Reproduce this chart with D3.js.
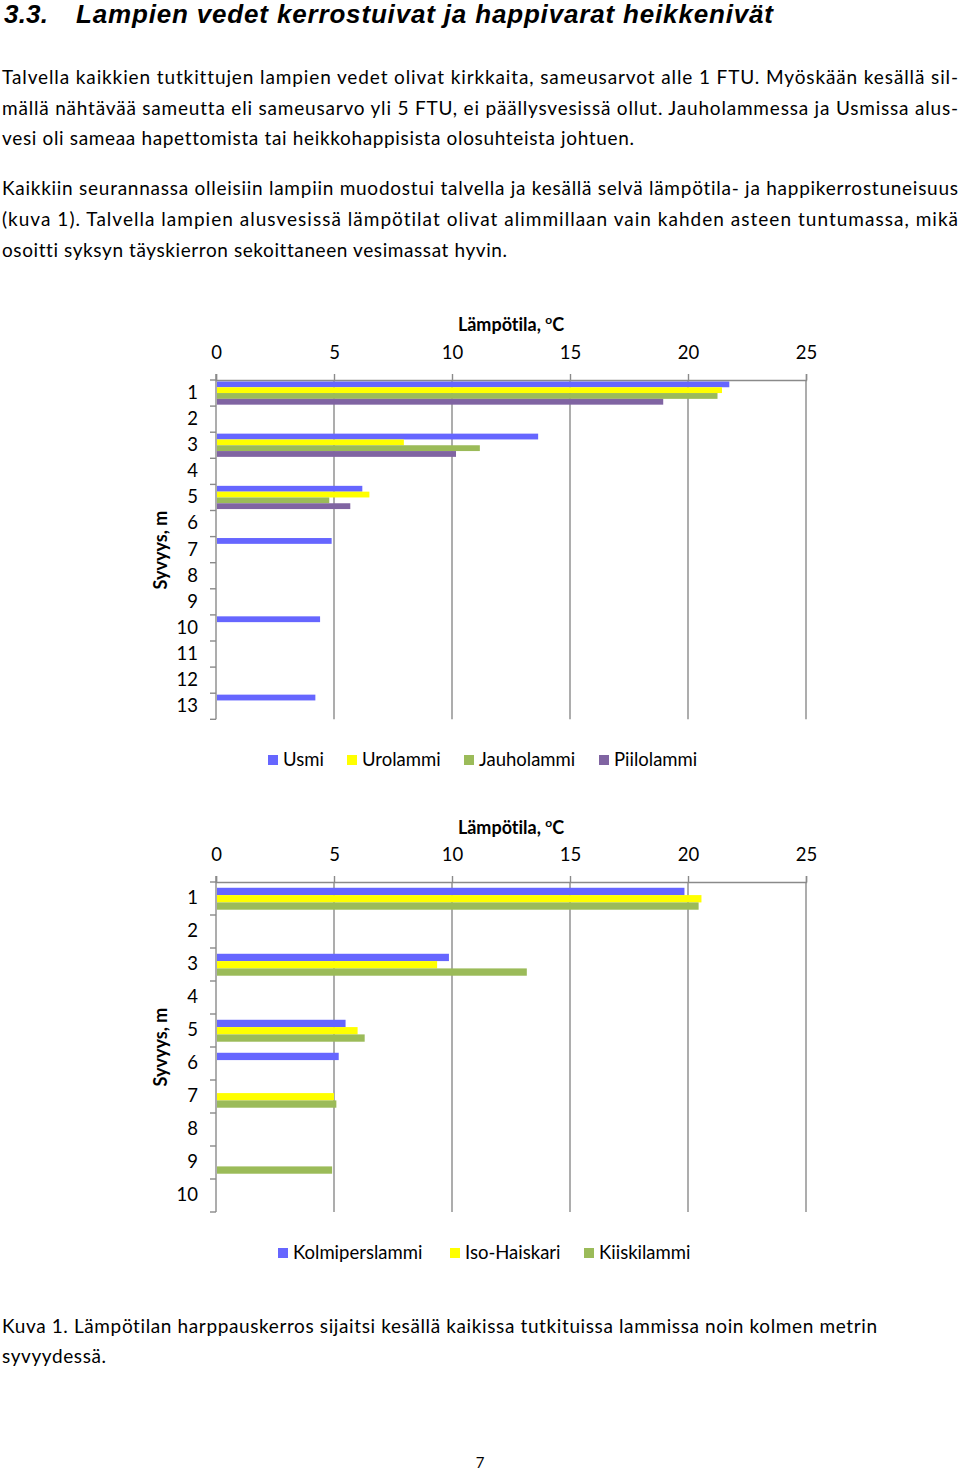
<!DOCTYPE html>
<html><head><meta charset="utf-8">
<script src="https://cdn.jsdelivr.net/npm/d3@7"></script>
<style>
html,body{margin:0;padding:0;background:#fff;}
svg{display:block;}
text{font-family:Lato,"Open Sans",sans-serif;fill:#000;font-variant-ligatures:none;}
</style></head>
<body>
<svg id="page" width="960" height="1470"></svg>
<script>
// ---------- data ----------
const tempTicks = [0, 5, 10, 15, 20, 25];
const depthsTop = [1,2,3,4,5,6,7,8,9,10,11,12,13];
const seriesTop = ["Usmi", "Urolammi", "Jauholammi", "Piilolammi"];
const usmi       = [21.75, null, 13.65, null, 6.2, null, 4.9, null, null, 4.41, null, null, 4.21];
const urolammi   = [21.44, null, 7.96, null, 6.5, null, null, null, null, null, null, null, null];
const jauholammi = [21.25, null, 11.18, null, 4.8, null, null, null, null, null, null, null, null];
const piilolammi = [18.95, null, 10.17, null, 5.69, null, null, null, null, null, null, null, null];

const depthsBottom = [1,2,3,4,5,6,7,8,9,10];
const seriesBottom = ["Kolmiperslammi", "Iso-Haiskari", "Kiiskilammi"];
const kolmiperslammi = [19.85, null, 9.87, null, 5.49, 5.2, null, null, null, null];
const isoHaiskari    = [20.57, null, 9.37, null, 6.0, null, 5.0, null, null, null];
const kiiskilammi    = [20.45, null, 13.17, null, 6.3, null, 5.1, null, 4.92, null];

const colorsTop = ["#6666FF", "#FFFF00", "#9BBB59", "#8064A2"];
const colorsBottom = ["#6666FF", "#FFFF00", "#9BBB59"];

const svg = d3.select("#page");

// ---------- body text ----------
function line(txt, x, y, w, opts = {}) {
  const t = svg.append("text").attr("x", x).attr("y", y)
    .style("font-size", (opts.size || 19) + "px")
    .text(txt);
  if (opts.weight) t.style("font-weight", opts.weight);
  if (opts.style) t.style("font-style", opts.style);
  if (opts.family) t.style("font-family", opts.family);
  if (opts.anchor) t.attr("text-anchor", opts.anchor);
  if (w) t.attr("textLength", w).attr("lengthAdjust", "spacing");
  return t;
}
const titleOpts = {size: 26, weight: "bold", style: "italic", family: "'Liberation Sans', Arial, sans-serif"};
line("3.3.", 4, 23, 44, titleOpts);
line("Lampien vedet kerrostuivat ja happivarat heikkenivät", 76, 23, 697, titleOpts);

const bodyLines = [
  ["Talvella kaikkien tutkittujen lampien vedet olivat kirkkaita, sameusarvot alle 1 FTU. Myöskään kesällä sil-", 84, 956],
  ["mällä nähtävää sameutta eli sameusarvo yli 5 FTU, ei päällysvesissä ollut. Jauholammessa ja Usmissa alus-", 115, 956],
  ["vesi oli sameaa hapettomista tai heikkohappisista olosuhteista johtuen.", 145, 632],
  ["Kaikkiin seurannassa olleisiin lampiin muodostui talvella ja kesällä selvä lämpötila- ja happikerrostuneisuus", 195, 956],
  ["(kuva 1). Talvella lampien alusvesissä lämpötilat olivat alimmillaan vain kahden asteen tuntumassa, mikä", 226, 956],
  ["osoitti syksyn täyskierron sekoittaneen vesimassat hyvin.", 257, 505],
  ["Kuva 1. Lämpötilan harppauskerros sijaitsi kesällä kaikissa tutkituissa lammissa noin kolmen metrin", 1333, 875],
  ["syvyydessä.", 1363, 104]
];
bodyLines.forEach(d => line(d[0], 2, d[1], d[2]));
line("7", 480, 1468, null, {size: 15, anchor: "middle"});

// ---------- chart helper ----------
function drawChart(cfg) {
  const g = svg.append("g");
  const x = d3.scaleLinear().domain([0, 25]).range([216, 806]);
  const y = d3.scaleBand().domain(cfg.depths).range([cfg.top, cfg.bottom]).padding(0);
  const inner = d3.scaleBand().domain(cfg.series)
    .range([y.bandwidth() * cfg.groupStart, y.bandwidth() * (cfg.groupStart + cfg.groupFrac)]).padding(0);
  const gridCol = "#8a8a8a";

  // gridlines
  g.append("g").selectAll("line").data(cfg.ticks.filter(t => t > 0)).join("line")
    .attr("x1", d => x(d)).attr("x2", d => x(d))
    .attr("y1", cfg.top).attr("y2", cfg.bottom)
    .attr("stroke", gridCol).attr("stroke-width", 1.4);

  // bars
  cfg.series.forEach((s, i) => {
    const vals = cfg.values[i];
    g.append("g").selectAll("rect")
      .data(cfg.depths.map((d, j) => ({d, v: vals[j]})).filter(o => o.v != null))
      .join("rect")
      .attr("x", x(0) + 1)
      .attr("y", o => y(o.d) + inner(s))
      .attr("width", o => x(o.v) - x(0) - 1)
      .attr("height", inner.bandwidth())
      .attr("fill", cfg.colors[i]);
  });

  // top value axis
  const xa = g.append("g").attr("transform", `translate(0,${cfg.top})`)
    .call(d3.axisTop(x).tickValues(cfg.ticks).tickSize(6).tickSizeOuter(6).tickPadding(15));
  xa.select(".domain").attr("stroke", gridCol).attr("stroke-width", 1.4);
  xa.selectAll(".tick line").attr("stroke", gridCol).attr("stroke-width", 1.4);
  xa.selectAll(".tick text").style("font-size", "18.5px").style("font-family", "Lato, 'Open Sans', sans-serif").attr("fill", "#000");

  // left category axis
  const ya = g.append("g").attr("transform", "translate(216,0)")
    .call(d3.axisLeft(y).tickSize(0).tickPadding(18));
  ya.select(".domain").remove();
  ya.selectAll(".tick text").style("font-size", "18.5px").style("font-family", "Lato, 'Open Sans', sans-serif").attr("fill", "#000");
  g.append("line").attr("x1", 216).attr("x2", 216).attr("y1", cfg.top - 6).attr("y2", cfg.bottom)
    .attr("stroke", gridCol).attr("stroke-width", 1.4);
  const edges = cfg.depths.map(d => y(d)).concat([y(cfg.depths[cfg.depths.length - 1]) + y.bandwidth()]);
  g.append("g").selectAll("line").data(edges).join("line")
    .attr("x1", 210).attr("x2", 216).attr("y1", d => d).attr("y2", d => d)
    .attr("stroke", gridCol).attr("stroke-width", 1.4);

  // axis title
  const tt = g.append("text").attr("x", 511).attr("y", cfg.titleY).attr("text-anchor", "middle")
    .style("font-size", "18px").style("font-weight", "bold");
  tt.append("tspan").text("Lämpötila, ");
  tt.append("tspan").text("o").style("font-size", "12px").attr("dy", -7);
  tt.append("tspan").text("C").attr("dy", 7);

  g.append("text").attr("transform", `translate(167,${cfg.yTitleY}) rotate(-90)`)
    .attr("text-anchor", "middle").style("font-size", "18px").style("font-weight", "bold")
    .text("Syvyys, m");

  // legend
  const lg = g.append("g");
  cfg.series.forEach((s, i) => {
    lg.append("rect").attr("x", cfg.legendX[i]).attr("y", cfg.legendY - 10).attr("width", 10).attr("height", 10)
      .attr("fill", cfg.colors[i]);
    lg.append("text").attr("x", cfg.legendX[i] + 15).attr("y", cfg.legendY + 1)
      .style("font-size", "18.5px").text(s);
  });
}

drawChart({
  depths: depthsTop, series: seriesTop,
  values: [usmi, urolammi, jauholammi, piilolammi],
  colors: colorsTop, ticks: tempTicks,
  top: 380, bottom: 719.3, groupStart: 0.055, groupFrac: 0.89,
  titleY: 331, yTitleY: 550,
  legendX: [268, 347, 464, 599], legendY: 765
});

drawChart({
  depths: depthsBottom, series: seriesBottom,
  values: [kolmiperslammi, isoHaiskari, kiiskilammi],
  colors: colorsBottom, ticks: tempTicks,
  top: 882, bottom: 1212, groupStart: 0.175, groupFrac: 0.665,
  titleY: 834, yTitleY: 1047,
  legendX: [278, 450, 584], legendY: 1258
});
</script>
</body></html>
